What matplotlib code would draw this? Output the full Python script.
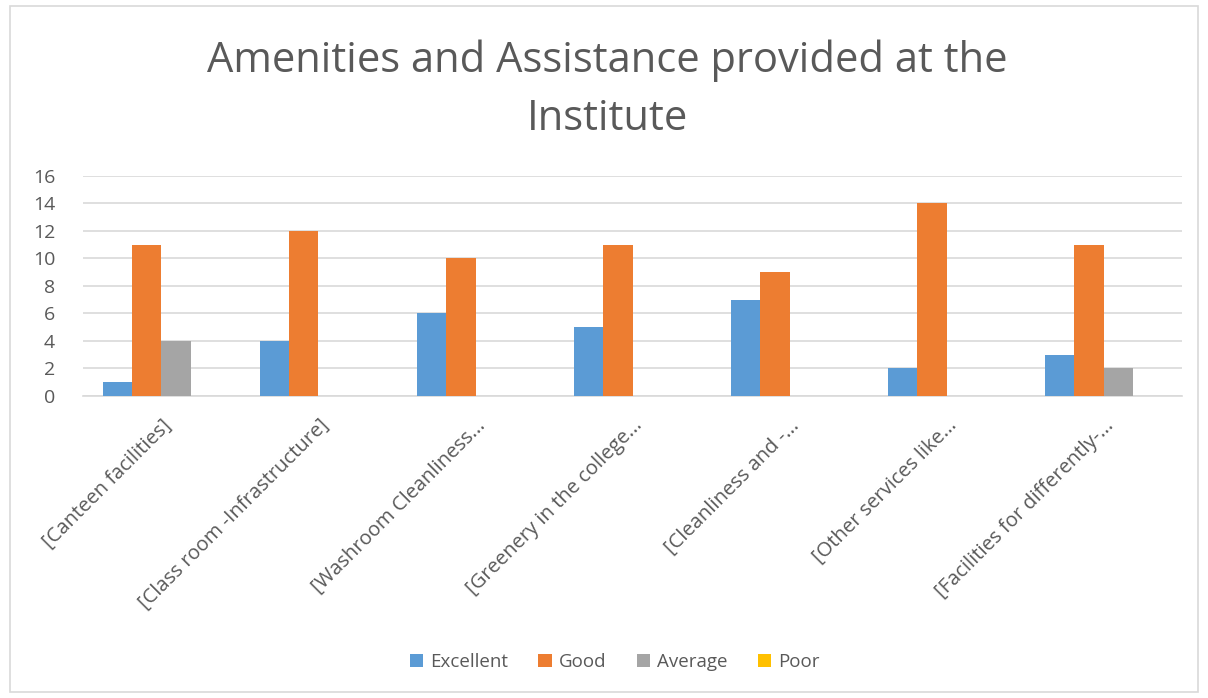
import matplotlib.pyplot as plt
import numpy as np
from matplotlib.patches import Rectangle

plt.rcParams['font.family'] = ['Open Sans', 'DejaVu Sans']

categories = ["[Canteen facilities]", "[Class room -Infrastructure]", "[Washroom Cleanliness...",
              "[Greenery in the college...", "[Cleanliness and -...", "[Other services like...",
              "[Facilities for differently-..."]
excellent = [1, 4, 6, 5, 7, 2, 3]
good = [11, 12, 10, 11, 9, 14, 11]
average = [4, 0, 0, 0, 0, 0, 2]
poor = [0, 0, 0, 0, 0, 0, 0]

series = [("Excellent", excellent, "#5B9BD5"),
          ("Good", good, "#ED7D31"),
          ("Average", average, "#A5A5A5"),
          ("Poor", poor, "#FFC000")]

fig = plt.figure(figsize=(12.08, 6.98), dpi=100)
# light frame around chart
fig.patches.append(Rectangle((0.008, 0.008), 0.984, 0.984, transform=fig.transFigure,
                             fill=False, edgecolor="#d9d9d9", linewidth=1.2))

ax = fig.add_axes([0.0687, 0.4327, 0.9098, 0.3152])
x = np.arange(len(categories))
w = 0.185
for i, (name, vals, col) in enumerate(series):
    ax.bar(x + (i - 1.5) * w, vals, w, color=col, label=name, zorder=3)

ax.set_xlim(-0.5, len(categories) - 0.5)
ax.set_ylim(0, 16)
ax.set_yticks(range(0, 17, 2))
ax.yaxis.grid(True, color="#d9d9d9", linewidth=1.2, zorder=0)
for s in ["top", "right", "left"]:
    ax.spines[s].set_visible(False)
ax.spines["bottom"].set_color("#d9d9d9")
ax.spines["bottom"].set_linewidth(1.2)
ax.tick_params(axis="both", length=0, colors="#595959")
ax.tick_params(axis="y", pad=20, labelsize=14)
ax.tick_params(axis="x", pad=14, labelsize=14.5)
ax.set_xticks(x)
ax.set_xticklabels(categories, rotation=45, ha="right", rotation_mode="anchor")

fig.text(0.5025, 0.913, "Amenities and Assistance provided at the", ha="center", va="center",
         fontsize=30, color="#595959")
fig.text(0.5025, 0.830, "Institute", ha="center", va="center", fontsize=30, color="#595959")

leg = fig.legend(loc="center", bbox_to_anchor=(0.509, 0.051), ncol=4, frameon=False,
                 fontsize=13.5, handlelength=0.7, handleheight=0.7, columnspacing=1.6,
                 handletextpad=0.4)
for t in leg.get_texts():
    t.set_color("#595959")

fig.savefig("out.png", dpi=100)
